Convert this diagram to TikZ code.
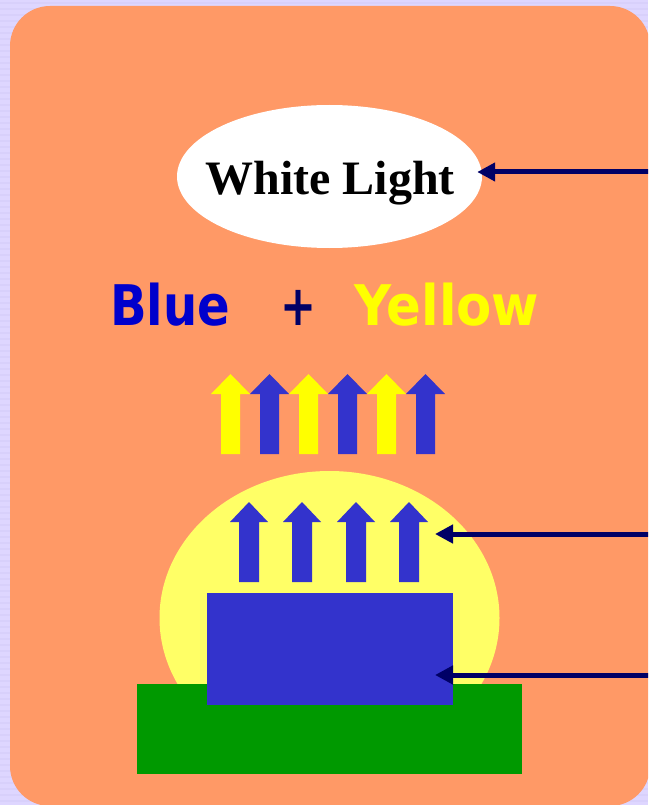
\documentclass[tikz,border=0pt]{standalone}
\usepackage{fontspec}
\usepackage{graphicx}
\usetikzlibrary{arrows.meta,shapes.geometric}
\newfontfamily\serifbold{Liberation Serif}
\newfontfamily\sansbold{DejaVu Sans}

\definecolor{paper}{RGB}{222,214,255}
\definecolor{paperline}{RGB}{216,208,251}
\definecolor{slide}{RGB}{255,153,102}
\definecolor{glow}{RGB}{255,255,102}
\definecolor{chipblue}{RGB}{51,51,204}
\definecolor{baseGreen}{RGB}{0,153,0}
\definecolor{navy}{RGB}{0,0,102}
\definecolor{wordblue}{RGB}{0,0,204}
\definecolor{wordyellow}{RGB}{255,255,0}

\tikzset{
  pointer/.style={draw=navy, line width=5pt,
    -{Triangle[length=18pt,width=18pt]}},
  % upward block arrow, origin at the tip:
  % #1 shaft half width, #2 head half width, #3 head height, #4 total length
  pics/uparr/.style n args={5}{code={
    \fill[#5] (0,0) -- (#2,#3) -- (#1,#3) -- (#1,#4) -- (-#1,#4)
      -- (-#1,#3) -- (-#2,#3) -- cycle;
  }},
  word/.style={inner sep=0pt, anchor=base west, font=\sansbold\bfseries\fontsize{56}{60}\selectfont}
}

\begin{document}
\begin{tikzpicture}[x=1pt, y=-1pt]
  \useasboundingbox (0,0) rectangle (648,805);
  \clip (0,0) rectangle (648,805);

  % ruled backdrop
  \fill[paper] (0,0) rectangle (648,805);
  \foreach \k in {0,...,134}
    \draw[paperline, line width=1.2pt] (0,{3+6*\k}) -- (648,{3+6*\k});

  % slide panel
  \fill[slide, rounded corners=40pt] (10,6) rectangle (650,806);

  % title bubble
  \node[ellipse, fill=white, minimum width=305pt, minimum height=143pt, inner sep=0pt]
    (wl) at (329.5,176.5) {};
  \node[inner sep=0pt, anchor=base, font=\serifbold\bfseries\fontsize{48}{52}\selectfont]
    (wltext) at (330,194) {White Light};

  % colour sum
  \node[word, text=wordblue] (blue) at (110,325) {\resizebox{120pt}{\height}{Blue}};
  \node[word, text=navy, anchor=base] (plus) at (298.5,325) {\resizebox{36pt}{\height}{+}};
  \node[word, text=wordyellow] (yellow) at (354,325) {\resizebox{185pt}{\height}{Yellow}};

  % mixed emission above the package
  \foreach \cx/\col in {230.5/wordyellow, 269.5/chipblue, 308.5/wordyellow,
                        347.5/chipblue, 386.5/wordyellow, 425.5/chipblue}
    \pic at (\cx,374) {uparr={9.5}{19.5}{20}{80}{\col}};

  % phosphor glow
  \fill[glow] (329.5,618) ellipse [x radius=170, y radius=147];

  % blue emission inside the phosphor
  \foreach \cx in {249,302,356,409}
    \pic at (\cx,502) {uparr={10}{19}{20}{80}{chipblue}};

  % substrate and chip
  \fill[baseGreen] (137,684) rectangle (522,774);
  \fill[chipblue] (207,593) rectangle (453,705);

  % callout pointers
  \coordinate (in1) at (652,172);
  \coordinate (in2) at (652,534);
  \coordinate (in3) at (652,675);
  \coordinate (tip2) at (435,534);
  \coordinate (tip3) at (435,675);
  \draw[pointer, shorten >=-5pt] (in1) -- (wl.east |- in1);
  \draw[pointer] (in2) -- (tip2);
  \draw[pointer] (in3) -- (tip3);
\end{tikzpicture}
\end{document}
